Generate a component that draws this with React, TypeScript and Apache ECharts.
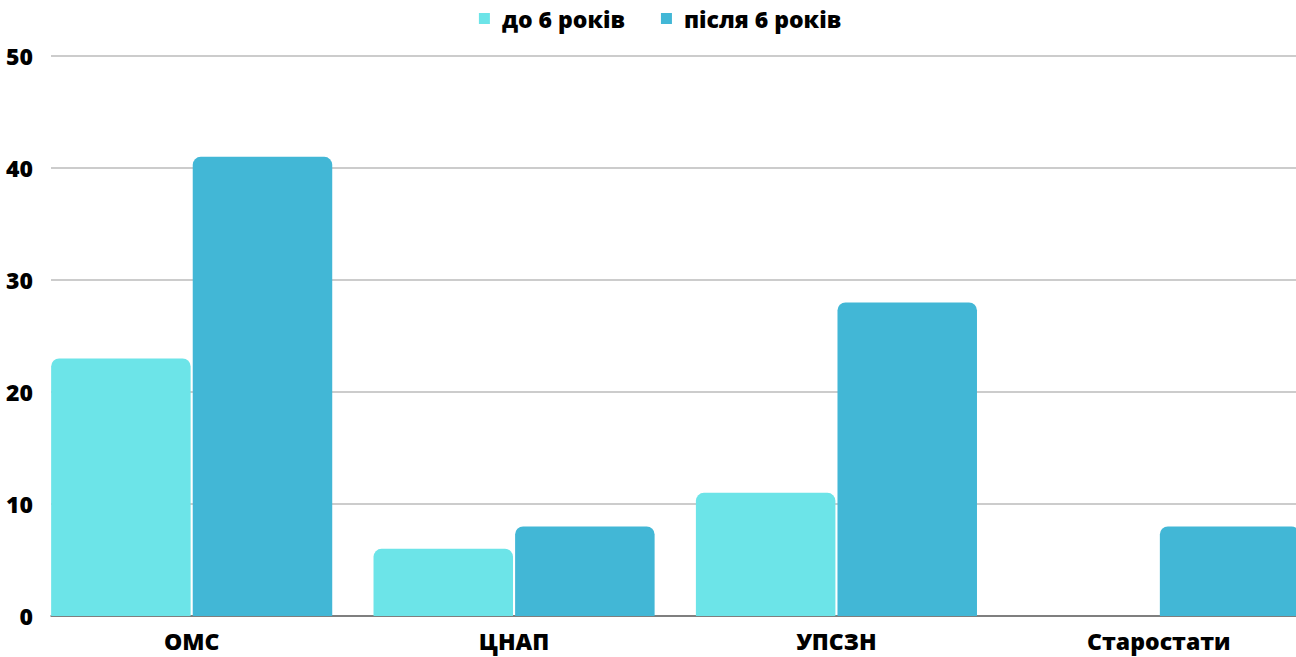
import React, { useEffect, useRef } from "react";
import * as echarts from "echarts";

const categories = ["ОМС", "ЦНАП", "УПСЗН", "Старостати"];
const seriesNames = ["до 6 років", "після 6 років"];
const under6 = [23, 6, 11, null];
const over6 = [41, 8, 28, 8];
const yTicks = { min: 0, max: 50, interval: 10 };

const FONT = "'Open Sans', 'Noto Sans', sans-serif";
const LIGHT = "#6ce4e8";
const DARK = "#42b7d6";
const FS = 23;

export default function App() {
  const ref = useRef<HTMLDivElement>(null);
  useEffect(() => {
    document.body.style.margin = "0";
    const chart = echarts.init(ref.current!, null, { renderer: "svg" });
    chart.setOption({
      animation: false,
      textStyle: { fontFamily: FONT },
      legend: {
        top: 2,
        left: "center",
        itemWidth: 11,
        itemHeight: 11,
        itemGap: 36,
        icon: "rect",
        data: seriesNames,
        textStyle: {
          fontFamily: FONT,
          fontSize: FS,
          fontWeight: 800,
          color: "#000",
          padding: [0, 0, 0, 7],
        },
      },
      grid: [
        { left: 30.5, top: 56, bottom: 41, right: 0, containLabel: false },
        { left: 51, right: 24, top: 56, bottom: 41, containLabel: false },
      ],
      xAxis: [
        {
          type: "category",
          gridIndex: 0,
          data: categories,
          axisLine: { show: false },
          axisTick: { show: false },
          axisLabel: {
            interval: 0,
            margin: 13,
            fontFamily: FONT,
            fontSize: FS,
            fontWeight: 800,
            color: "#000",
          },
        },
        {
          type: "value",
          gridIndex: 1,
          min: 0,
          max: 1,
          axisLine: { show: true, lineStyle: { color: "#666", width: 1.5 } },
          axisTick: { show: false },
          axisLabel: { show: false },
          splitLine: { show: false },
        },
      ],
      yAxis: [
        {
          type: "value",
          gridIndex: 0,
          min: yTicks.min,
          max: yTicks.max,
          interval: yTicks.interval,
          show: false,
          splitLine: { show: false },
        },
        {
          type: "value",
          gridIndex: 1,
          min: yTicks.min,
          max: yTicks.max,
          interval: yTicks.interval,
          axisLine: { show: false },
          axisTick: { show: false },
          axisLabel: {
            margin: 18,
            fontFamily: FONT,
            fontSize: FS,
            fontWeight: 800,
            color: "#000",
          },
          splitLine: { show: true, lineStyle: { color: "#bbbbbb", width: 1.5 } },
        },
      ],
      series: [
        {
          name: seriesNames[0],
          type: "bar",
          xAxisIndex: 0,
          yAxisIndex: 0,
          data: under6,
          barWidth: 139.5,
          barGap: "1.5%",
          itemStyle: { color: LIGHT, borderRadius: [8, 8, 0, 0] },
        },
        {
          name: seriesNames[1],
          type: "bar",
          xAxisIndex: 0,
          yAxisIndex: 0,
          data: over6,
          barWidth: 139.5,
          barGap: "1.5%",
          itemStyle: { color: DARK, borderRadius: [8, 8, 0, 0] },
        },
      ],
    });
    return () => chart.dispose();
  }, []);
  return (
    <div style={{ width: 1296, height: 657, overflow: "hidden" }}>
      <div ref={ref} style={{ width: 1320, height: 657 }} />
    </div>
  );
}
